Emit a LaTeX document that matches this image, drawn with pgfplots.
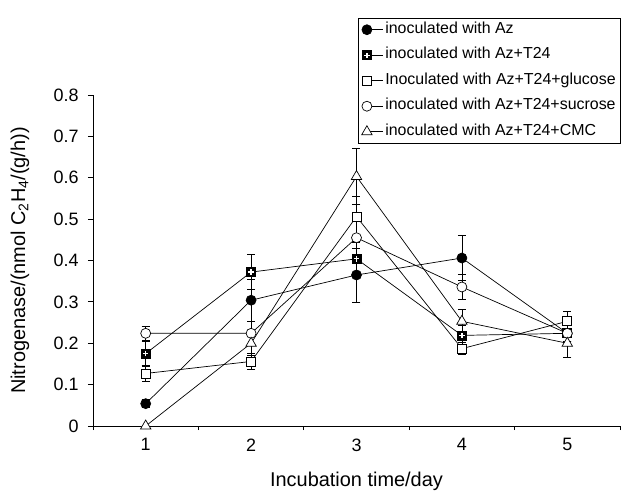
\documentclass[border=0pt]{standalone}
\usepackage{pgfplots}
\pgfplotsset{compat=1.18}
\usepackage{pgfplotstable}
\usepackage{fontspec}
\setmainfont{Liberation Sans}

% black square with a white plus, as in the original figure
\pgfdeclareplotmark{sqplus}{%
  \pgfpathrectangle{\pgfqpoint{-\pgfplotmarksize}{-\pgfplotmarksize}}{\pgfqpoint{2\pgfplotmarksize}{2\pgfplotmarksize}}%
  \pgfusepathqfillstroke
  \begin{pgfscope}
  \pgfsetstrokecolor{white}\pgfsetlinewidth{1.3bp}%
  \pgfpathmoveto{\pgfqpoint{-0.6\pgfplotmarksize}{0pt}}\pgfpathlineto{\pgfqpoint{0.6\pgfplotmarksize}{0pt}}%
  \pgfpathmoveto{\pgfqpoint{0pt}{-0.6\pgfplotmarksize}}\pgfpathlineto{\pgfqpoint{0pt}{0.6\pgfplotmarksize}}%
  \pgfusepathqstroke
  \end{pgfscope}
}

% x  y  err
\pgfplotstableread{
x y e
1 0.054 0.010
2 0.304 0.050
3 0.365 0.065
4 0.406 0.055
5 0.224 0.020
}\az
\pgfplotstableread{
x y e
1 0.175 0.030
2 0.372 0.042
3 0.404 0.040
4 0.219 0.025
5 0.224 0.020
}\azt
\pgfplotstableread{
x y e
1 0.127 0.020
2 0.156 0.020
3 0.506 0.050
4 0.187 0.015
5 0.253 0.025
}\glu
\pgfplotstableread{
x y e
1 0.224 0.018
2 0.224 0.030
3 0.455 0.040
4 0.336 0.030
5 0.224 0.020
}\suc
\pgfplotstableread{
x y e
1 0.000 0.000
2 0.200 0.030
3 0.603 0.068
4 0.253 0.030
5 0.200 0.035
}\cmc

\begin{document}
\begin{tikzpicture}
\path (-93bp,-65bp) rectangle (530bp,426bp);
\begin{axis}[
    scale only axis,
    width=527bp, height=331bp,
    xmin=0.5, xmax=5.5,
    ymin=0, ymax=0.8,
    axis x line*=bottom, axis y line*=left,
    axis line style={line width=0.8bp},
    xtick={1,2,3,4,5},
    minor xtick={0.5,1.5,...,5.5},
    major x tick style={draw=none},
    ytick={0,0.1,...,0.8},
    yticklabels={0,0.1,0.2,0.3,0.4,0.5,0.6,0.7,0.8},
    tick align=outside,
    major tick length=5bp, minor tick length=4bp,
    tick style={black, line width=0.8bp},
    /pgf/number format/assume math mode=true,
    tick label style={font=\fontsize{18}{21}\selectfont},
    yticklabel style={xshift=-6bp},
    xticklabel style={yshift=-4bp},
    xlabel={Incubation time/day},
    ylabel={Nitrogenase/(nmol C\textsubscript{2}H\textsubscript{4}/(g/h))},
    label style={font=\fontsize{20}{24}\selectfont},
    xlabel style={at={(axis description cs:0.5,-0.184)}, anchor=base},
    ylabel style={at={(axis description cs:-0.1385,0.5)}, anchor=center},
    every axis plot/.append style={black, line width=0.7bp, mark size=5bp,
        mark options={solid, line width=0.7bp}},
    error bars/y dir=both, error bars/y explicit,
    error bars/error bar style={black, line width=0.7bp},
    error bars/error mark options={rotate=90, mark size=4bp, line width=0.7bp},
    legend image code/.code={%
        \draw[#1, mark=none] (0bp,0bp) -- (16bp,0bp);
        \draw[#1, only marks] plot coordinates {(0bp,0bp)};},
    legend cell align=left,
    legend style={at={(axis description cs:1.0019,1.233)}, anchor=north east,
        draw=black, line width=0.7bp, font=\fontsize{16}{19}\selectfont,
        row sep=6.5bp,
        nodes={inner sep=2bp, text height=11bp, text depth=4bp}},
]
\addplot[mark=*, mark options={fill=black}] table[x=x, y=y, y error=e] {\az};
\addlegendentry{inoculated with Az}
\addplot[mark=sqplus, mark size=4.5bp, mark options={fill=black}] table[x=x, y=y, y error=e] {\azt};
\addlegendentry{inoculated with Az+T24}
\addplot[mark=square*, mark size=4.5bp, mark options={fill=white}] table[x=x, y=y, y error=e] {\glu};
\addlegendentry{Inoculated with Az+T24+glucose}
\addplot[mark=*, mark options={fill=white}] table[x=x, y=y, y error=e] {\suc};
\addlegendentry{inoculated with Az+T24+sucrose}
\addplot[mark=triangle*, mark size=6bp, mark options={fill=white}] table[x=x, y=y, y error=e] {\cmc};
\addlegendentry{inoculated with Az+T24+CMC}
\end{axis}
\end{tikzpicture}
\end{document}
